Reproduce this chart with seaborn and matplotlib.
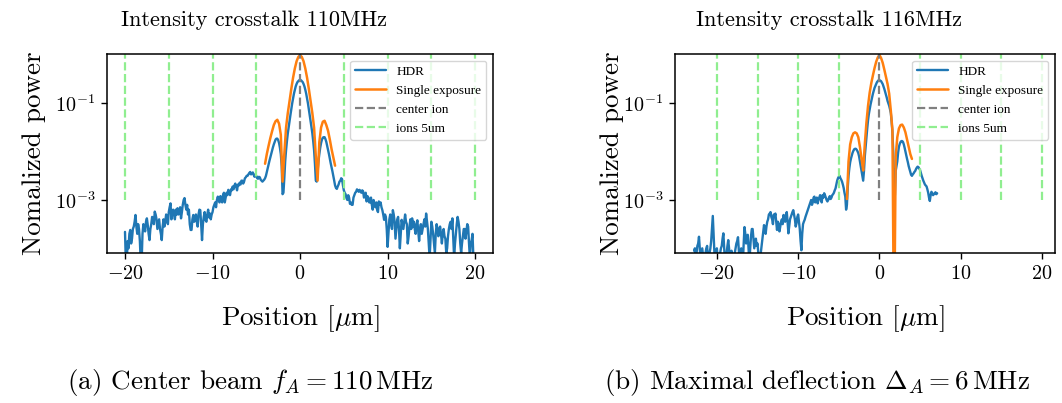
import numpy as np
import matplotlib
matplotlib.use("Agg")
import matplotlib.pyplot as plt
from matplotlib.ticker import LogFormatterSciNotation, FixedLocator, NullLocator
import seaborn as sns

# ---------------------------------------------------------------------------
# Measured profiles, stored as log10(normalized power).
# HDR profiles are sampled every 0.1 um, single exposures every 0.2 um.
# ---------------------------------------------------------------------------
HDR_STEP = 0.1
SINGLE_STEP = 0.2

# 110 MHz, HDR, starts at -20.0 um
hdr_110_start = -20.0
hdr_110_log = [
    -3.66, -4.30, -4.30, -3.85, -4.00, -3.70, -3.62, -3.90, -3.80, -3.60,
    -3.55, -3.45, -3.31, -3.55, -3.70, -3.50, -3.60, -3.85, -4.30, -4.30,
    -3.70, -3.50, -3.55, -3.65, -3.45, -3.38, -3.52, -3.70, -3.83, -3.60,
    -3.50, -3.35, -3.41, -3.50, -3.24, -3.30, -3.40, -3.60, -3.50, -3.40,
    -3.60, -3.70, -3.83, -3.55, -3.40, -3.55, -3.45, -3.30, -3.35, -3.50,
    -3.25, -3.15, -3.07, -3.40, -3.30, -3.20, -3.28, -3.40, -3.20, -3.30,
    -3.17, -3.30, -3.25, -3.15, -3.38, -3.25, -3.10, -3.00, -2.96, -3.10,
    -3.20, -3.10, -3.30, -3.20, -3.50, -3.62, -3.62, -3.40, -3.31, -3.45,
    -3.40, -3.30, -3.45, -3.55, -3.30, -3.20, -3.21, -3.50, -3.83, -3.50,
    -3.35, -3.25, -3.41, -3.45, -3.30, -3.20, -3.36, -3.28, -3.40, -3.30,
    -3.25, -3.15, -3.10, -3.05, -3.15, -3.00, -2.93, -2.98, -3.05, -2.92,
    -2.95, -3.05, -2.90, -2.85, -3.05, -2.95, -2.85, -2.90, -2.79, -2.85,
    -2.90, -2.78, -2.80, -2.72, -2.78, -2.70, -2.66, -2.72, -2.80, -2.68,
    -2.70, -2.64, -2.68, -2.60, -2.60, -2.66, -2.62, -2.55, -2.53, -2.50,
    -2.50, -2.47, -2.44, -2.42, -2.47, -2.45, -2.43, -2.48, -2.52, -2.47,
    -2.50, -2.55, -2.56, -2.52, -2.53, -2.58, -2.60, -2.62, -2.60, -2.58,
    -2.55, -2.50, -2.42, -2.34, -2.26, -2.19, -2.12, -2.05, -1.98, -1.91,
    -1.85, -1.80, -1.75, -1.73, -1.73, -1.76, -1.82, -1.92, -2.05, -2.30,
    -2.88, -2.85, -2.55, -2.20, -1.97, -1.78, -1.62, -1.49, -1.37, -1.24,
    -1.12, -1.00, -0.90, -0.80, -0.72, -0.65, -0.60, -0.56, -0.54, -0.52,
    -0.52, -0.52, -0.54, -0.56, -0.60, -0.65, -0.72, -0.80, -0.90, -1.00,
    -1.12, -1.24, -1.37, -1.49, -1.62, -1.78, -1.97, -2.25, -2.60, -2.62,
    -2.40, -2.20, -2.05, -1.92, -1.82, -1.75, -1.71, -1.70, -1.70, -1.74,
    -1.80, -1.88, -1.96, -2.05, -2.15, -2.24, -2.32, -2.41, -2.50, -2.60,
    -2.70, -2.75, -2.77, -2.72, -2.68, -2.62, -2.60, -2.55, -2.57, -2.70,
    -2.80, -2.85, -2.88, -2.96, -3.00, -2.90, -2.95, -3.08, -3.05, -3.10,
    -3.10, -2.95, -2.90, -2.85, -2.83, -2.78, -2.80, -2.83, -2.79, -2.82,
    -2.85, -2.80, -2.82, -2.95, -2.90, -2.85, -3.03, -2.92, -2.95, -3.05,
    -3.05, -2.95, -3.10, -3.20, -3.00, -3.10, -3.15, -3.05, -3.20, -3.25,
    -3.03, -3.10, -3.05, -3.15, -3.21, -3.30, -3.41, -3.30, -3.35, -3.60,
    -3.97, -3.70, -3.40, -3.30, -3.50, -3.60, -3.21, -3.30, -3.45, -3.80,
    -3.60, -3.40, -3.35, -3.60, -4.00, -3.70, -3.41, -3.50, -3.60, -3.45,
    -3.30, -3.45, -3.50, -3.90, -3.75, -3.55, -3.40, -3.60, -3.38, -3.55,
    -3.45, -3.60, -3.70, -3.50, -3.42, -3.65, -3.85, -3.60, -3.50, -3.70,
    -3.60, -3.50, -3.40, -3.55, -3.28, -3.45, -3.60, -3.90, -4.20, -3.80,
    -3.45, -3.55, -3.70, -3.90, -4.10, -3.70, -3.50, -3.60, -3.75, -3.60,
    -3.55, -3.70, -3.90, -3.70, -3.60, -3.75, -3.80, -4.10, -4.00, -3.75,
    -3.60, -3.50, -3.45, -3.60, -3.38, -3.80, -4.20, -3.90, -3.70, -3.50,
    -3.35, -3.45, -3.60, -3.90, -4.10, -3.90, -3.75, -3.60, -3.60, -3.80,
    -3.65, -3.50, -3.55, -3.90, -4.20, -3.90, -3.83, -3.70, -4.20, -4.30,
]

# 110 MHz, single exposure, starts at -4.0 um
single_110_start = -4.0
single_110_log = [
    -2.25, -2.05, -1.88, -1.72, -1.58, -1.45, -1.37, -1.34, -1.42, -1.65,
    -2.62, -2.05, -1.50, -1.20, -0.95, -0.70, -0.47, -0.28, -0.13, -0.04,
    0.00, -0.04, -0.13, -0.28, -0.47, -0.70, -0.95, -1.20, -1.50, -2.10,
    -2.60, -1.80, -1.50, -1.38, -1.36, -1.45, -1.57, -1.75, -1.95, -2.12,
    -2.29,
]

# 116 MHz, HDR, starts at -22.8 um
hdr_116_start = -22.8
hdr_116_log = [
    -4.05, -4.00, -4.30, -4.10, -3.95, -3.90, -3.76, -4.00, -4.30, -4.30,
    -4.00, -4.15, -4.30, -4.20, -4.10, -4.00, -3.95, -4.20, -4.30, -4.10,
    -4.00, -3.85, -3.60, -3.33, -3.70, -4.10, -4.30, -4.10, -4.00, -4.20,
    -4.30, -4.20, -4.10, -4.00, -3.95, -3.80, -3.69, -4.00, -4.30, -4.20,
    -4.10, -3.95, -3.83, -4.00, -4.30, -4.20, -4.05, -4.20, -4.30, -4.20,
    -4.10, -4.00, -3.90, -3.85, -3.77, -4.05, -4.30, -4.10, -4.00, -4.20,
    -4.30, -3.90, -3.56, -3.70, -3.90, -3.80, -3.72, -4.00, -4.30, -4.00,
    -3.75, -3.60, -3.60, -3.80, -4.00, -3.90, -3.80, -3.95, -3.90, -4.10,
    -4.30, -4.20, -4.10, -3.95, -3.80, -3.65, -3.52, -3.60, -3.70, -3.55,
    -3.45, -3.40, -3.30, -3.28, -3.25, -3.35, -3.40, -3.50, -3.30, -3.35,
    -3.28, -3.45, -3.62, -3.45, -3.50, -3.65, -3.55, -3.45, -3.40, -3.50,
    -3.31, -3.40, -3.45, -3.30, -3.25, -3.45, -3.69, -3.55, -3.40, -3.35,
    -3.30, -3.25, -3.21, -3.30, -3.40, -3.55, -3.48, -3.35, -3.30, -3.45,
    -3.60, -3.85, -4.04, -3.70, -3.50, -3.45, -3.41, -3.35, -3.30, -3.25,
    -3.20, -3.15, -3.10, -3.05, -3.00, -3.10, -3.05, -2.95, -2.93, -3.05,
    -3.00, -2.95, -3.07, -3.00, -2.95, -2.90, -3.00, -3.05, -2.90, -2.95,
    -2.86, -2.90, -2.95, -3.00, -3.03, -3.00, -2.95, -2.92, -2.98, -2.95,
    -2.90, -2.88, -2.85, -2.80, -2.76, -2.68, -2.60, -2.55, -2.52, -2.50,
    -2.55, -2.58, -2.62, -2.68, -2.75, -2.85, -2.93, -3.20, -3.10, -2.75,
    -2.50, -2.34, -2.22, -2.14, -2.08, -2.02, -1.98, -1.95, -1.94, -1.94,
    -1.96, -1.99, -2.03, -2.10, -2.20, -2.30, -2.40, -2.50, -2.60, -2.40,
    -2.10, -1.90, -1.70, -1.52, -1.35, -1.22, -1.12, -1.03, -0.95, -0.87,
    -0.80, -0.74, -0.68, -0.64, -0.60, -0.56, -0.54, -0.52, -0.52, -0.53,
    -0.54, -0.57, -0.60, -0.65, -0.70, -0.76, -0.82, -0.88, -0.95, -1.00,
    -1.05, -1.12, -1.20, -1.38, -1.60, -2.00, -2.60, -2.90, -2.40, -2.30,
    -2.20, -2.02, -1.90, -1.84, -1.80, -1.78, -1.78, -1.80, -1.85, -1.92,
    -2.00, -2.07, -2.15, -2.22, -2.30, -2.36, -2.42, -2.48, -2.50, -2.47,
    -2.45, -2.42, -2.40, -2.36, -2.33, -2.31, -2.32, -2.35, -2.38, -2.44,
    -2.50, -2.55, -2.60, -2.64, -2.68, -2.70, -2.72, -2.78, -2.85, -2.95,
    -3.02, -2.90, -2.83, -2.86, -2.90, -2.88, -2.86, -2.84, -2.88, -2.86,
]

# 116 MHz, single exposure, starts at -4.0 um
single_116_start = -4.0
single_116_log = [
    -2.98, -2.20, -1.85, -1.70, -1.62, -1.60, -1.62, -1.70, -1.90, -2.15,
    -2.39, -1.85, -1.40, -1.05, -0.78, -0.58, -0.42, -0.27, -0.14, -0.05,
    0.00, -0.06, -0.16, -0.30, -0.45, -0.60, -0.80, -1.15, -1.55, -6.00,
    -2.10, -1.70, -1.52, -1.45, -1.44, -1.50, -1.60, -1.75, -1.90, -2.05,
    -2.15,
]

center_ion = [0]
ion_positions = [-20, -15, -10, -5, 5, 10, 15, 20]

titles = ["Intensity crosstalk 110MHz", "Intensity crosstalk 116MHz"]
captions = [r"(a) Center beam $f_A = 110\,\mathrm{MHz}$",
            r"(b) Maximal deflection $\Delta_A = 6\,\mathrm{MHz}$"]


def profile(start, logs, step):
    x = np.round(start + step * np.arange(len(logs)), 2)
    return x, 10.0 ** np.asarray(logs)


# ---------------------------------------------------------------------------
sns.set_theme(style="ticks")
plt.rcParams.update({
    "font.family": ["cmr10", "DejaVu Serif"],
    "mathtext.fontset": "cm",
    "axes.formatter.use_mathtext": True,
    "axes.edgecolor": "black",
    "axes.linewidth": 1.1,
    "axes.labelcolor": "black",
    "text.color": "black",
    "xtick.color": "black",
    "ytick.color": "black",
    "xtick.major.size": 4.5,
    "ytick.major.size": 4.5,
    "xtick.major.width": 1.0,
    "ytick.major.width": 1.0,
})

BLUE = "#1f77b4"
ORANGE = "#ff7f0e"

fig = plt.figure(figsize=(10.62, 4.03), dpi=100)
ax_a = fig.add_axes([0.1008, 0.3722, 0.3635, 0.4938])
ax_b = fig.add_axes([0.6356, 0.3722, 0.3578, 0.4938])

panels = [
    (ax_a, (hdr_110_start, hdr_110_log), (single_110_start, single_110_log),
     (-22.05, 22.05)),
    (ax_b, (hdr_116_start, hdr_116_log), (single_116_start, single_116_log),
     (-25.15, 21.6)),
]

for ax, hdr, single, xlim in panels:
    xh, ph = profile(*hdr, HDR_STEP)
    xs, ps = profile(*single, SINGLE_STEP)
    sns.lineplot(x=xh, y=ph, ax=ax, color=BLUE, lw=1.7, label="HDR")
    sns.lineplot(x=xs, y=ps, ax=ax, color=ORANGE, lw=1.8,
                 label="Single exposure")
    ax.vlines(center_ion, 1e-3, 2.0, colors="gray", linestyles="--",
              lw=1.6, label="center ion")
    ax.vlines(ion_positions, 1e-3, 2.0, colors="lightgreen",
              linestyles="--", lw=1.6, label="ions 5um")
    ax.set_yscale("log")
    ax.set_ylim(8e-5, 1.05)
    ax.set_xlim(*xlim)
    ax.yaxis.set_major_locator(FixedLocator([1e-3, 1e-1]))
    ax.yaxis.set_major_formatter(LogFormatterSciNotation())
    ax.yaxis.set_minor_locator(NullLocator())
    ax.set_xticks([-20, -10, 0, 10, 20])
    ax.tick_params(labelsize=14.5, pad=4)
    ax.set_xlabel(r"Position [$\mu$m]", fontsize=19.5)
    ax.set_ylabel("Nomalized power", fontsize=19.5)
    ax.xaxis.set_label_coords(0.5, -0.255)
    leg = ax.legend(loc="upper right", prop={"family": "Liberation Serif",
                                             "size": 9.5},
                    frameon=True, fancybox=True, framealpha=0.8,
                    edgecolor="0.8", handlelength=2.3)
    leg.get_frame().set_linewidth(1.0)

ax_a.yaxis.set_label_coords(-0.158, 0.5)
ax_b.yaxis.set_label_coords(-0.135, 0.5)

fig.text(254 / 1062, 1 - 20 / 403, titles[0], ha="center", va="center",
         fontsize=16)
fig.text(829 / 1062, 1 - 20 / 403, titles[1], ha="center", va="center",
         fontsize=16)
fig.text(250 / 1062, 1 - 382 / 403, captions[0], ha="center", va="center",
         fontsize=19.5)
fig.text(817 / 1062, 1 - 382 / 403, captions[1], ha="center", va="center",
         fontsize=19.5)

fig.savefig("out.png", dpi=100)
